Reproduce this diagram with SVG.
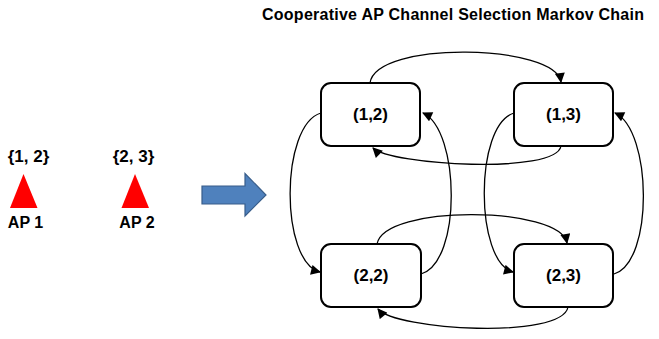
<svg xmlns="http://www.w3.org/2000/svg" width="659" height="339" viewBox="0 0 659 339">
<style>
.t{font-family:"Liberation Sans",Arial,sans-serif;font-weight:bold;fill:#000}
.box{fill:#fff;stroke:#000;stroke-width:2}
.c{fill:none;stroke:#000;stroke-width:1.3}
.ap{fill:#ff0000}
</style>
<defs>
<marker id="ah" viewBox="0 0 10 10" refX="9" refY="5" markerWidth="11" markerHeight="10" markerUnits="userSpaceOnUse" orient="auto">
<path d="M0,0 L10,5 L0,10 z" fill="#000"/>
</marker>
</defs>
<rect width="659" height="339" fill="#fff"/>
<text class="t" x="262" y="20" font-size="16" textLength="382">Cooperative AP Channel Selection Markov Chain</text>
<g id="ap1">
<text class="t" x="28.5" y="162" font-size="17" text-anchor="middle">{1, 2}</text>
<polygon class="ap" points="23.5,174 37.5,208 10,208"/>
<text class="t" x="25.5" y="228" font-size="16" text-anchor="middle">AP 1</text>
</g>
<g id="ap2">
<text class="t" x="133.5" y="162" font-size="17" text-anchor="middle">{2, 3}</text>
<polygon class="ap" points="135,174 149,208 121.5,208"/>
<text class="t" x="137" y="228" font-size="16" text-anchor="middle">AP 2</text>
</g>
<g id="bigarrow">
<polygon points="202,186 245,186 245,173.5 266,195 245,216 245,204 202,204" fill="#4F81BD" stroke="#385D8A" stroke-width="1.2"/>
</g>
<g id="connectors">
<path class="c" marker-end="url(#ah)" d="M370,83 C376,40 556,44 561,82"/>
<path class="c" marker-end="url(#ah)" d="M561,146 C556,175 390,165 373,148"/>
<path class="c" marker-end="url(#ah)" d="M321,113 C280,125 280,262 320,272"/>
<path class="c" marker-end="url(#ah)" d="M421,274 C462,262 460,130 423,113"/>
<path class="c" marker-end="url(#ah)" d="M514,113 C474,125 475,262 513,272"/>
<path class="c" marker-end="url(#ah)" d="M614,274 C654,262 652,130 615,113"/>
<path class="c" marker-end="url(#ah)" d="M377,244 C384,204 560,206 567,243"/>
<path class="c" marker-end="url(#ah)" d="M568,307 C562,340 395,330 378,309"/>
</g>
<g id="n12">
<rect class="box" x="321" y="83" width="99" height="63" rx="10"/>
<text class="t" x="370.5" y="120" font-size="17" text-anchor="middle">(1,2)</text>
</g>
<g id="n13">
<rect class="box" x="514" y="83" width="99" height="63" rx="10"/>
<text class="t" x="563.5" y="120" font-size="17" text-anchor="middle">(1,3)</text>
</g>
<g id="n22">
<rect class="box" x="321" y="244" width="100" height="63" rx="10"/>
<text class="t" x="371" y="281" font-size="17" text-anchor="middle">(2,2)</text>
</g>
<g id="n23">
<rect class="box" x="514" y="244" width="99" height="63" rx="10"/>
<text class="t" x="563.5" y="281" font-size="17" text-anchor="middle">(2,3)</text>
</g>
</svg>
